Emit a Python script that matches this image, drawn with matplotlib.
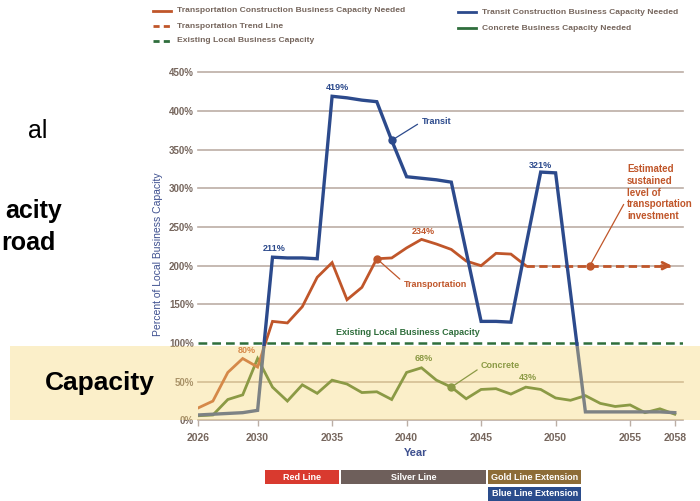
import matplotlib
matplotlib.use("Agg")
import matplotlib.pyplot as plt
from matplotlib.lines import Line2D
from matplotlib.patches import Rectangle
import matplotlib.transforms as mtransforms

# data (percent of local business capacity)
years = list(range(2026, 2059))
transit = [7, 8, 9, 10, 13, 211, 210, 210, 209, 419, 417, 414, 412, 362, 315, 313,
           311, 308, 218, 128, 128, 127, 225, 321, 320, 165, 11, 11, 11, 11, 11, 11, 10]
concrete = [6, 7, 27, 33, 80, 43, 25, 46, 35, 52, 47, 36, 37, 27, 62, 68,
            52, 43, 28, 40, 41, 34, 43, 40, 29, 26, 32, 22, 18, 20, 10, 15, 8]
transport_years = list(range(2026, 2049))
transport = [16, 25, 62, 80, 69, 128, 126, 147, 185, 204, 156, 172, 209, 210, 223, 234,
             228, 221, 206, 200, 216, 215, 200]
trend_years = [2048, 2058]
trend_values = [200, 200]
existing_capacity = 100

xtick_years = [2026, 2030, 2035, 2040, 2045, 2050, 2055, 2058]
ytick_values = list(range(0, 451, 50))

phases = ["Red Line", "Silver Line", "Gold Line Extension", "Blue Line Extension"]
phase_start = [2030.4, 2035.5, 2045.4, 2045.4]
phase_end = [2035.5, 2045.4, 2051.8, 2051.8]
phase_row = [0, 0, 0, 1]
phase_colors = ["#d93a2f", "#6e5f5b", "#8d6c37", "#2a4c8c"]

BLUE = "#2c4a8c"
ORANGE = "#c0562a"
GREEN = "#447222"
DGREEN = "#2f6e3c"
GRID = "#bcaea5"
TXT = "#76665d"
FONT = "Liberation Sans"

W, H = 700, 501


def fx(x):
    return x / W


def fy(y):
    return 1 - y / H


fig = plt.figure(figsize=(7, 5.01), dpi=100)
fig.patch.set_facecolor("white")

ax = fig.add_axes([fx(198), fy(420.4), (683 - 198) / W, (420.4 - 72.3) / H])
ax.set_xlim(2026, 2026 + (683 - 198) / 14.9)
ax.set_ylim(0, 450)
for s in ax.spines.values():
    s.set_visible(False)

for v in ytick_values:
    if v != existing_capacity:
        ax.axhline(v, color=GRID, lw=1.2, zorder=1, clip_on=False)
ax.axhline(existing_capacity, color=DGREEN, lw=1.8, ls=(0, (3.5, 2)), zorder=2)

ax.set_yticks(ytick_values)
ax.set_yticklabels([f"{v}%" for v in ytick_values])
ax.set_xticks(xtick_years)
ax.set_xticklabels([str(y) for y in xtick_years])
ax.tick_params(axis="y", length=0, pad=3, labelsize=7, labelcolor=TXT)
ax.tick_params(axis="x", length=4, width=1, color=GRID, pad=5, labelsize=7.5, labelcolor=TXT)
for lab in ax.get_xticklabels() + ax.get_yticklabels():
    lab.set_family(FONT)
    lab.set_fontweight("bold")

# series
ax.plot(years, concrete, color=GREEN, lw=2, zorder=3, solid_joinstyle="miter")
ax.plot(transport_years, transport, color=ORANGE, lw=2, zorder=4, solid_joinstyle="miter")
ax.plot([trend_years[0], trend_years[1] - 0.3], trend_values, color=ORANGE, lw=2,
        ls=(0, (3, 1.6)), zorder=4)
ax.annotate("", xy=(trend_years[1] - 0.2, trend_values[1]),
            xytext=(trend_years[1] - 0.9, trend_values[1]),
            arrowprops=dict(arrowstyle="->", color=ORANGE, lw=2, mutation_scale=12,
                            shrinkA=0, shrinkB=0), zorder=4)
ax.plot(years, transit, color=BLUE, lw=2.4, zorder=5, solid_joinstyle="miter")


# value labels
def value_label(text, x, y, color, dx, dy):
    ax.annotate(text, (x, y), xytext=(dx, dy), textcoords="offset points",
                ha="center", va="center", color=color, fontsize=6.5,
                fontweight="bold", family=FONT, zorder=6)


value_label("419%", 2035, transit[years.index(2035)], BLUE, 4, 6)
value_label("211%", 2031, transit[years.index(2031)], BLUE, 1.5, 6)
value_label("321%", 2049, transit[years.index(2049)], BLUE, 0, 5)
value_label("234%", 2041, transport[transport_years.index(2041)], ORANGE, 1.5, 6)
value_label("80%", 2029, transport[transport_years.index(2029)], ORANGE, 3, 5.5)
value_label("68%", 2041, concrete[years.index(2041)], GREEN, 1.5, 7)
value_label("43%", 2048, concrete[years.index(2048)], GREEN, 1.5, 7)

ax.text(2040.1, existing_capacity + 13, "Existing Local Business Capacity", color=DGREEN,
        ha="center", va="center", fontsize=6.5, fontweight="bold", family=FONT)


# callouts with leader lines
def callout(text, x, y, tx, ty, color, relpos=(0, 0.5), va="center", size=6.5):
    ax.plot([x], [y], "o", color=color, ms=5, zorder=7)
    ax.annotate(text, (x, y), xytext=(tx, ty), ha="left", va=va, color=color,
                fontsize=size, fontweight="bold", family=FONT, linespacing=1.2,
                arrowprops=dict(arrowstyle="-", color=color, lw=0.9, shrinkA=1,
                                shrinkB=0, relpos=relpos), zorder=7)


callout("Transit", 2039, transit[years.index(2039)], 2041.0, 386, BLUE)
callout("Transportation", 2038, transport[transport_years.index(2038)], 2039.8, 176, ORANGE,
        relpos=(0, 0.7))
callout("Concrete", 2043, concrete[years.index(2043)], 2045.0, 71, GREEN, relpos=(0, 0.3))
callout("Estimated\nsustained\nlevel of\ntransportation\ninvestment", 2052.3, trend_values[0],
        2054.8, 331, ORANGE, relpos=(0, 0.4), va="top", size=7)

# axis titles
fig.text(fx(158), fy(254), "Percent of Local Business Capacity", rotation=90, ha="center",
         va="center", color="#3d4f8f", fontsize=7.5, family=FONT)
fig.text(fx(416), fy(453), "Year", ha="center", va="center", color="#3d4f8f", fontsize=8,
         fontweight="bold", family=FONT)

# legend drawn by hand
legend_items = [
    (153, 11, ORANGE, "-", "Transportation Construction Business Capacity Needed"),
    (153, 26, ORANGE, "--", "Transportation Trend Line"),
    (153, 41, DGREEN, "--", "Existing Local Business Capacity"),
    (458, 12, BLUE, "-", "Transit Construction Business Capacity Needed"),
    (458, 28, DGREEN, "-", "Concrete Business Capacity Needed"),
]
for x0, y0, c, ls, lab in legend_items:
    dash = (0, (2.2, 1.5)) if ls == "--" else "-"
    fig.add_artist(Line2D([fx(x0), fx(x0 + 18)], [fy(y0), fy(y0)], color=c, lw=2, ls=dash))
    fig.text(fx(x0 + 24), fy(y0), lab, ha="left", va="center", color=TXT, fontsize=6.1,
             fontweight="bold", family=FONT)

# line timeline under the axis
trans = mtransforms.blended_transform_factory(ax.transData, fig.transFigure)
for name, s, e, r, c in zip(phases, phase_start, phase_end, phase_row, phase_colors):
    top = 470 + r * 17
    rect = Rectangle((s + 0.07, fy(top + 14)), e - s - 0.14, 14 / H, transform=trans,
                     facecolor=c, edgecolor="none", clip_on=False)
    fig.add_artist(rect)
    fig.text((s + e) / 2, fy(top + 7), name, transform=trans, ha="center", va="center",
             color="white", fontsize=6.5, fontweight="bold", family=FONT)

# slide overlay: yellow band and cut-off slide text
fig.add_artist(Rectangle((fx(10), fy(420)), (W - 10) / W, (420 - 346) / H,
                         transform=fig.transFigure, facecolor="#f7d77a", alpha=0.4,
                         edgecolor="none", zorder=5))
fig.text(fx(155), fy(383), "Capacity", ha="right", va="center", fontsize=19,
         fontweight="bold", family=FONT, color="black", zorder=6)
fig.text(fx(62), fy(211), "acity", ha="right", va="center", fontsize=18,
         fontweight="bold", family=FONT, color="black")
fig.text(fx(56), fy(243), "road", ha="right", va="center", fontsize=18,
         fontweight="bold", family=FONT, color="black")
fig.text(fx(47), fy(131), "al", ha="right", va="center", fontsize=18,
         family=FONT, color="black")

fig.savefig("out.png", dpi=100)
